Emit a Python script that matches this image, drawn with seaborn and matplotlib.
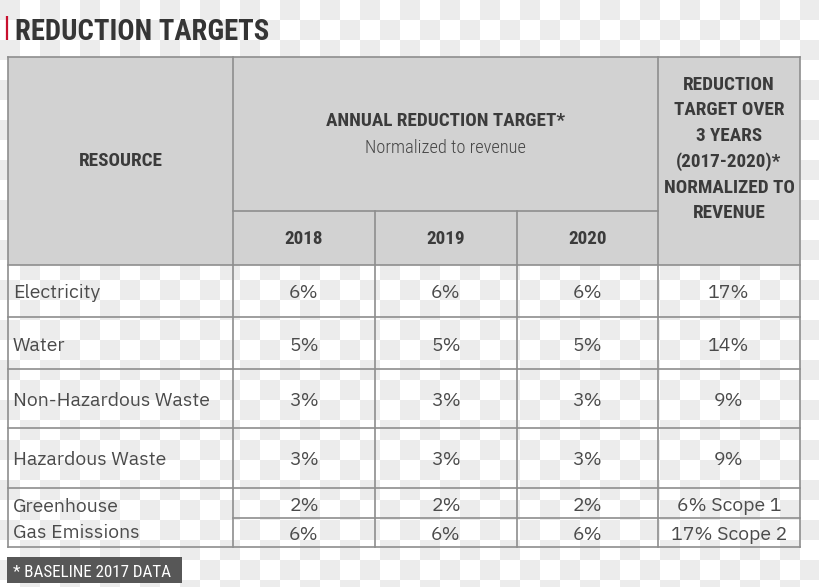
import numpy as np
import matplotlib
matplotlib.use("Agg")
import matplotlib.pyplot as plt
from matplotlib.colors import ListedColormap
import seaborn as sns

# ---- data ----
title = "REDUCTION TARGETS"
resources = ["Electricity", "Water", "Non-Hazardous Waste", "Hazardous Waste", "Greenhouse\nGas Emissions"]
years = ["2018", "2019", "2020"]
t2018 = [6, 5, 3, 3, 2, 6]
t2019 = [6, 5, 3, 3, 2, 6]
t2020 = [6, 5, 3, 3, 2, 6]
total3y = [17, 14, 9, 9, 6, 17]
total_suffix = ["", "", "", "", " Scope 1", " Scope 2"]
resource_header = "RESOURCE"
annual_header = "ANNUAL REDUCTION TARGET*"
annual_sub = "Normalized to revenue"
right_header = ["REDUCTION", "TARGET OVER", "3 YEARS", "(2017-2020)*", "NORMALIZED TO", "REVENUE"]
footnote = "* BASELINE 2017 DATA"

sns.set_theme(style="white")
plt.rcParams['font.family'] = ['DejaVu Sans']

COND = ['Roboto Condensed', 'Archivo Narrow', 'DejaVu Sans']
BODY = ['IBM Plex Sans', 'Roboto', 'DejaVu Sans']

W, H = 820, 587
fig = plt.figure(figsize=(W / 100, H / 100), dpi=100)

# checkerboard background (transparency pattern of the source image)
bg = fig.add_axes([0, 0, 1, 1])
nx, ny = 41, 30
checker = (np.add.outer(np.arange(ny), np.arange(nx)) % 2 == 0).astype(int)
sns.heatmap(checker, cmap=ListedColormap(["#ffffff", "#ececec"]), cbar=False, ax=bg,
            xticklabels=False, yticklabels=False)
bg.set_xlim(0, W / 20)
bg.set_ylim(H / 20, 0)
bg.axis("off")

ax = fig.add_axes([0, 0, 1, 1])
ax.set_xlim(0, W)
ax.set_ylim(H, 0)
ax.axis("off")
ax.patch.set_alpha(0)
renderer = fig.canvas.get_renderer()


def fit_size(s, target_w, **kw):
    """font size so that string s is target_w pixels wide"""
    t = ax.text(0, 0, s, fontsize=10, **kw)
    w = t.get_window_extent(renderer).width
    t.remove()
    return 10 * target_w / w


# geometry
xs = [8, 233, 375, 517, 658, 800]
ytop, yann, yhead = 57, 211, 265
rows_y = [265, 317, 369, 428, 488, 547]
ysplit = 518
lc = "#8e8e8e"
lw = 1.2

ax.add_patch(plt.Rectangle((xs[0], ytop), xs[-1] - xs[0], yhead - ytop, color="#d2d2d2", lw=0))


def hline(y, x0, x1):
    ax.plot([x0, x1], [y, y], color=lc, lw=lw, solid_capstyle="projecting")


def vline(x, y0, y1):
    ax.plot([x, x], [y0, y1], color=lc, lw=lw, solid_capstyle="projecting")


hline(ytop, xs[0], xs[-1])
hline(yann, xs[1], xs[4])
for y in rows_y:
    hline(y, xs[0], xs[-1])
hline(ysplit, xs[1], xs[-1])
vline(xs[0], ytop, rows_y[-1])
vline(xs[1], ytop, rows_y[-1])
vline(xs[2], yann, rows_y[-1])
vline(xs[3], yann, rows_y[-1])
vline(xs[4], ytop, rows_y[-1])
vline(xs[5], ytop, rows_y[-1])

hdr = dict(family=COND, weight="bold", color="#3b3b3b")
hdr_fs = fit_size(annual_header, 238, **hdr)
body_kw = dict(family=BODY, color="#4b4b4b")
body_fs = fit_size("Non-Hazardous Waste", 196, **body_kw)

# title
ax.plot([7, 7], [16, 40], color="#c8102e", lw=1.6, solid_capstyle="butt")
title_kw = dict(family=COND, weight="bold", color="#353535")
ax.text(15, 40, title, fontsize=fit_size(title, 253, **title_kw), va="baseline", ha="left", **title_kw)

# headers
ax.text((xs[0] + xs[1]) / 2, 161, resource_header, fontsize=hdr_fs, ha="center", va="center", **hdr)
ax.text((xs[1] + xs[4]) / 2, 121, annual_header, fontsize=hdr_fs, ha="center", va="center", **hdr)
sub_kw = dict(family=COND, weight="light", color="#454545")
ax.text((xs[1] + xs[4]) / 2, 148, annual_sub, fontsize=fit_size(annual_sub, 161, **sub_kw),
        ha="center", va="center", **sub_kw)
for i, yr in enumerate(years):
    ax.text((xs[1 + i] + xs[2 + i]) / 2, 239, yr, fontsize=hdr_fs, ha="center", va="center", **hdr)
for k, line in enumerate(right_header):
    ax.text((xs[4] + xs[5]) / 2, 84.5 + k * 25.8, line, fontsize=hdr_fs, ha="center", va="center", **hdr)

# body rows
label_base = [298, 351, 406, 465, 512]
for lbl, y in zip(resources, label_base):
    lines = lbl.split("\n")
    for k, ln in enumerate(lines):
        ax.text(13, y + k * 26, ln, ha="left", va="baseline", fontsize=body_fs, **body_kw)

val_base = [298, 351, 406, 465, 511, 540]
for j, series in enumerate([t2018, t2019, t2020]):
    cx = (xs[1 + j] + xs[2 + j]) / 2
    for v, y in zip(series, val_base):
        ax.text(cx, y, f"{v}%", ha="center", va="baseline", fontsize=body_fs, **body_kw)
for v, suf, y in zip(total3y, total_suffix, val_base):
    ax.text((xs[4] + xs[5]) / 2, y, f"{v}%{suf}", ha="center", va="baseline", fontsize=body_fs, **body_kw)

# footnote
ax.add_patch(plt.Rectangle((7, 557), 175, 26, color="#575757", lw=0))
foot_kw = dict(family=COND, weight="normal", color="white")
ax.text(13, 577, footnote, fontsize=fit_size(footnote, 158, **foot_kw), ha="left", va="baseline", **foot_kw)

fig.savefig("out.png", dpi=100)
